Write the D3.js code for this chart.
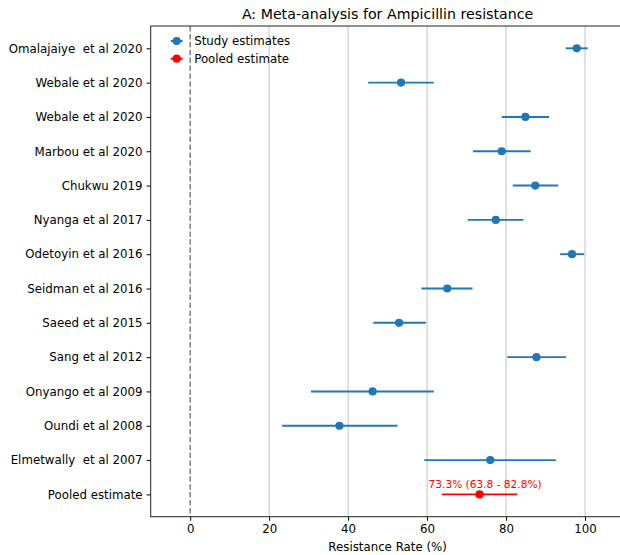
<!DOCTYPE html>
<html>
<head>
<meta charset="utf-8">
<script src="https://cdn.jsdelivr.net/npm/d3@7"></script>
<style>
  body { margin: 0; background: #fff; }
  svg { font-family: "DejaVu Sans", sans-serif; }
  text { white-space: pre; }
</style>
</head>
<body>
<div id="chart"></div>
<script>
const studies = [
  "Omalajaiye  et al 2020", "Webale et al 2020", "Webale et al 2020", "Marbou et al 2020",
  "Chukwu 2019", "Nyanga et al 2017", "Odetoyin et al 2016", "Seidman et al 2016",
  "Saeed et al 2015", "Sang et al 2012", "Onyango et al 2009", "Oundi et al 2008",
  "Elmetwally  et al 2007"
]
const estimates = [97.9, 53.4, 84.9, 78.9, 87.4, 77.4, 96.7, 65.1, 52.9, 87.7, 46.2, 37.8, 76.0]
const lower = [95.1, 45.1, 78.9, 71.6, 81.7, 70.3, 93.7, 58.6, 46.4, 80.3, 30.6, 23.3, 59.3]
const upper = [100.7, 61.7, 90.9, 86.2, 93.2, 84.4, 99.8, 71.5, 59.7, 95.2, 61.7, 52.5, 92.6]
const pooled = { label: "Pooled estimate", est: 73.3, lo: 63.8, hi: 82.8 }
const xTicks = [0, 20, 40, 60, 80, 100]

const blue = '#1f77b4'
const red = '#ff0000'
const width = 620, height = 555
const margin = { left: 150.7, right: 624.5, top: 26, bottom: 516.7 }
const fs = 11.8

const svg = d3.select('#chart').append('svg')
  .attr('width', width)
  .attr('height', height)

const labels = [...studies, pooled.label]
const x = d3.scaleLinear().domain([-10, 110]).range([margin.left, margin.right])
const y = d3.scaleLinear().domain([-0.65, labels.length - 1 + 0.65]).range([margin.top, margin.bottom])

// grid
svg.append('g')
  .selectAll('line')
  .data(xTicks.filter(t => t !== 0))
  .join('line')
  .attr('x1', d => x(d)).attr('x2', d => x(d))
  .attr('y1', margin.top).attr('y2', margin.bottom)
  .attr('stroke', '#b0b0b0').attr('stroke-opacity', 0.7).attr('stroke-width', 1.1)

// zero line
svg.append('line')
  .attr('x1', x(0)).attr('x2', x(0))
  .attr('y1', margin.top).attr('y2', margin.bottom)
  .attr('stroke', 'gray').attr('stroke-width', 1.5)
  .attr('stroke-dasharray', '5.5,2.4')

// study rows
const rows = svg.append('g')
  .selectAll('g')
  .data(studies.map((s, i) => ({ i, est: estimates[i], lo: lower[i], hi: upper[i] })))
  .join('g')
rows.append('line')
  .attr('x1', d => x(d.lo)).attr('x2', d => x(d.hi))
  .attr('y1', d => y(d.i)).attr('y2', d => y(d.i))
  .attr('stroke', blue).attr('stroke-width', 1.9)
rows.append('circle')
  .attr('cx', d => x(d.est)).attr('cy', d => y(d.i)).attr('r', 4.1)
  .attr('fill', blue)

// pooled
const py = y(labels.length - 1)
svg.append('line')
  .attr('x1', x(pooled.lo)).attr('x2', x(pooled.hi))
  .attr('y1', py).attr('y2', py)
  .attr('stroke', red).attr('stroke-width', 1.9)
svg.append('circle')
  .attr('cx', x(pooled.est)).attr('cy', py).attr('r', 4.1)
  .attr('fill', red)
svg.append('text')
  .attr('x', x(pooled.est)).attr('dx', 5.5).attr('y', py - 6)
  .attr('text-anchor', 'middle')
  .attr('fill', red).attr('font-size', 10.6)
  .text(`${pooled.est.toFixed(1)}% (${pooled.lo.toFixed(1)} - ${pooled.hi.toFixed(1)}%)`)

// axes
const xAxis = svg.append('g')
  .attr('transform', `translate(0,${margin.bottom})`)
  .call(d3.axisBottom(x).tickValues(xTicks).tickSize(4.1).tickPadding(4))
xAxis.select('.domain').remove()
xAxis.selectAll('text').attr('font-size', fs).attr('fill', '#000').style('font-family', 'DejaVu Sans')
xAxis.selectAll('line').attr('stroke', '#000').attr('stroke-width', 1)

const yAxis = svg.append('g')
  .attr('transform', `translate(${margin.left},0)`)
  .call(d3.axisLeft(y).tickValues(d3.range(labels.length)).tickFormat(i => labels[i]).tickSize(4.1).tickPadding(4))
yAxis.select('.domain').remove()
yAxis.selectAll('text').attr('font-size', fs).attr('fill', '#000').style('font-family', 'DejaVu Sans')
yAxis.selectAll('line').attr('stroke', '#000').attr('stroke-width', 1)

// spines
svg.append('rect')
  .attr('x', margin.left).attr('y', margin.top)
  .attr('width', margin.right - margin.left).attr('height', margin.bottom - margin.top)
  .attr('fill', 'none').attr('stroke', '#222').attr('stroke-width', 1)

// title and label
const cx = (margin.left + margin.right) / 2
svg.append('text')
  .attr('x', cx).attr('y', 19)
  .attr('text-anchor', 'middle').attr('font-size', 14.2)
  .text('A: Meta-analysis for Ampicillin resistance')
svg.append('text')
  .attr('x', cx).attr('y', 551)
  .attr('text-anchor', 'middle').attr('font-size', fs)
  .text('Resistance Rate (%)')

// legend
const legend = svg.append('g')
const items = [{ label: 'Study estimates', color: blue }, { label: 'Pooled estimate', color: red }]
const lg = legend.selectAll('g').data(items).join('g')
  .attr('transform', (d, i) => `translate(176.7,${41 + i * 17.7})`)
lg.append('line').attr('x1', -6).attr('x2', 6).attr('stroke', d => d.color).attr('stroke-width', 1.9)
lg.append('circle').attr('r', 4.1).attr('fill', d => d.color)
lg.append('text').attr('x', 17.5).attr('dy', '0.35em').attr('font-size', fs).text(d => d.label)
</script>
</body>
</html>
